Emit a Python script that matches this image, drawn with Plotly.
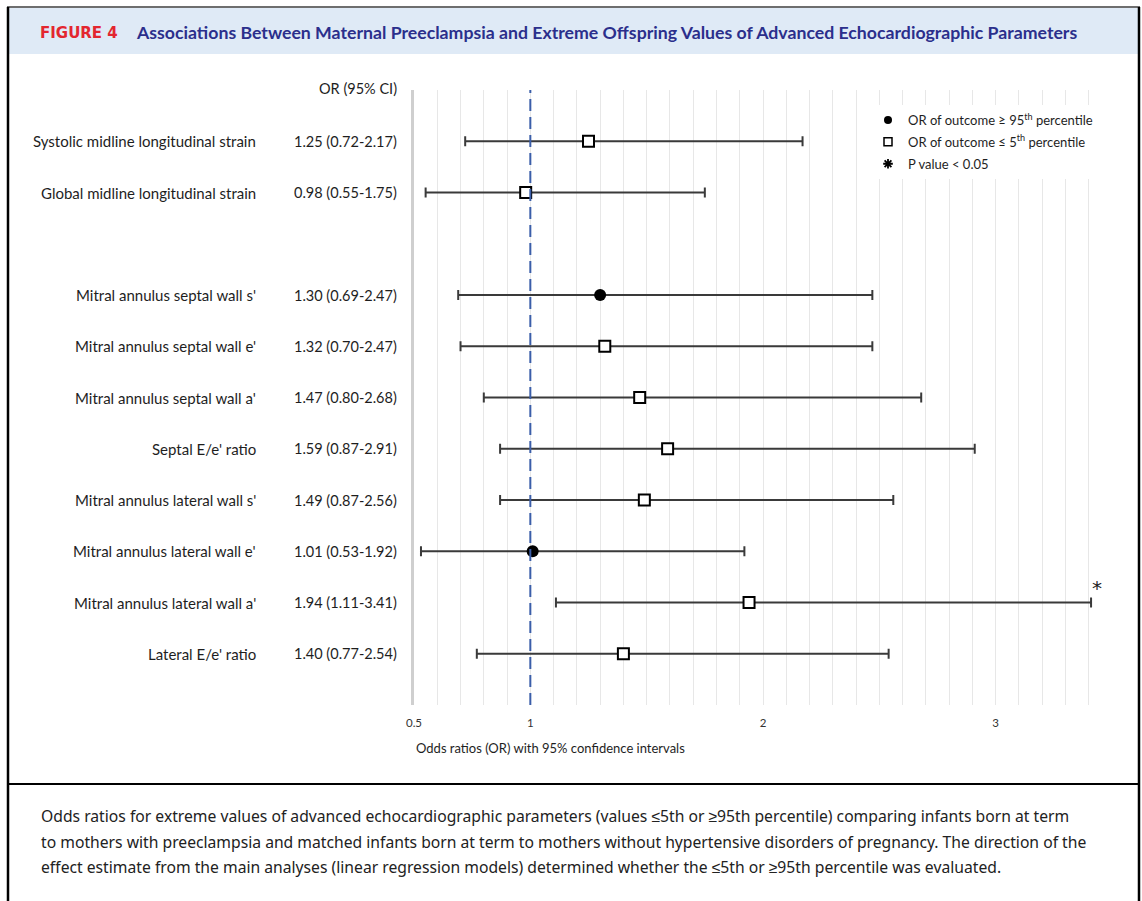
import plotly.graph_objects as go

# ---------------- data ----------------
labels = [
    "Systolic midline longitudinal strain",
    "Global midline longitudinal strain",
    "Mitral annulus septal wall s'",
    "Mitral annulus septal wall e'",
    "Mitral annulus septal wall a'",
    "Septal E/e' ratio",
    "Mitral annulus lateral wall s'",
    "Mitral annulus lateral wall e'",
    "Mitral annulus lateral wall a'",
    "Lateral E/e' ratio",
]
or_vals = [1.25, 0.98, 1.30, 1.32, 1.47, 1.59, 1.49, 1.01, 1.94, 1.40]
ci_low = [0.72, 0.55, 0.69, 0.70, 0.80, 0.87, 0.87, 0.53, 1.11, 0.77]
ci_high = [2.17, 1.75, 2.47, 2.47, 2.68, 2.91, 2.56, 1.92, 3.41, 2.54]
direction = ["low", "low", "high", "low", "low", "low", "low", "high", "low", "low"]  # high: >=95th, low: <=5th
significant = [False, False, False, False, False, False, False, False, True, False]
n_strain_rows = 2  # rows before the blank spacer row

x_ticks = [0.5, 1, 2, 3]
x_ticktext = ["0.5", "1", "2", "3"]

title_tag = "FIGURE 4"
title_text = "Associations Between Maternal Preeclampsia and Extreme Offspring Values of Advanced Echocardiographic Parameters"
caption_lines = [
    "Odds ratios for extreme values of advanced echocardiographic parameters (values \u22645th or \u226595th percentile) comparing infants born at term",
    "to mothers with preeclampsia and matched infants born at term to mothers without hypertensive disorders of pregnancy. The direction of the",
    "effect estimate from the main analyses (linear regression models) determined whether the \u22645th or \u226595th percentile was evaluated.",
]

# ---------------- layout helpers ----------------
W, H = 1142, 901
L, R, T, B = 414, 30, 90, 196
PW, PH = W - L - R, H - T - B


def px(x):
    return (x - L) / PW


def py(y):
    return 1 - (y - T) / PH


rows = [i + 1 if i < n_strain_rows else i + 2 for i in range(len(labels))]

FONT = "Lato, 'Open Sans', sans-serif"
TXT = "#1e1e1e"

fig = go.Figure()

for d, sym, fill in [("high", "circle", "black"), ("low", "square", "white")]:
    idx = [i for i in range(len(labels)) if direction[i] == d]
    xs = [or_vals[i] for i in idx]
    ys = [rows[i] for i in idx]
    plus = [ci_high[i] - or_vals[i] for i in idx]
    minus = [or_vals[i] - ci_low[i] for i in idx]
    fig.add_trace(go.Scatter(
        x=xs, y=ys, mode="markers", showlegend=False,
        marker=dict(symbol=sym, size=12 if d == "high" else 11, color=fill,
                    line=dict(color="black", width=2 if d == "low" else 0)),
        error_x=dict(type="data", symmetric=False, array=plus, arrayminus=minus,
                     color="#3a3a3a", thickness=2, width=5),
    ))

# legend-only traces
fig.add_trace(go.Scatter(x=[None], y=[None], mode="markers", legendgroup="a",
                         name="OR of outcome \u2265 95<sup>th</sup> percentile",
                         marker=dict(symbol="circle", size=8, color="black")))
fig.add_trace(go.Scatter(x=[None], y=[None], mode="markers", legendgroup="b",
                         name="OR of outcome \u2264 5<sup>th</sup> percentile",
                         marker=dict(symbol="square", size=8, color="white",
                                     line=dict(color="black", width=1.5))))
fig.add_trace(go.Scatter(x=[None], y=[None], mode="markers", legendgroup="c",
                         name="P value &lt; 0.05",
                         marker=dict(symbol="asterisk-open", size=8, color="black",
                                     line=dict(color="black", width=1.8))))

ann = []
# row labels and OR text
for i, lab in enumerate(labels):
    ann.append(dict(xref="paper", yref="y", x=px(258), y=rows[i], text=lab,
                    xanchor="right", yanchor="middle", showarrow=False,
                    font=dict(family=FONT, size=15, color=TXT)))
    ann.append(dict(xref="paper", yref="y", x=px(399), y=rows[i],
                    text=f"{or_vals[i]:.2f} ({ci_low[i]:.2f}-{ci_high[i]:.2f})",
                    xanchor="right", yanchor="middle", showarrow=False,
                    font=dict(family=FONT, size=14.5, color=TXT)))
    if significant[i]:
        ann.append(dict(xref="x", yref="y", x=ci_high[i], y=rows[i], text="*",
                        xanchor="center", yanchor="middle", showarrow=False,
                        xshift=6, yshift=15,
                        font=dict(family="DejaVu Sans, sans-serif", size=20, color=TXT)))

ann.append(dict(xref="paper", yref="paper", x=px(399), y=py(88), text="OR (95% CI)",
                xanchor="right", yanchor="middle", showarrow=False,
                font=dict(family=FONT, size=14.5, color=TXT)))
ann.append(dict(xref="paper", yref="paper", x=px(414), y=py(748),
                text="Odds ratios (OR) with 95% confidence intervals",
                xanchor="left", yanchor="middle", showarrow=False,
                font=dict(family=FONT, size=13, color=TXT)))
# header
ann.append(dict(xref="paper", yref="paper", x=px(38), y=py(33), text=f"<b>{title_tag}</b>",
                xanchor="left", yanchor="middle", showarrow=False,
                font=dict(family="DejaVu Sans, sans-serif", size=15, color="#e3262f")))
ann.append(dict(xref="paper", yref="paper", x=px(134), y=py(33), text=f"<b>{title_text}</b>",
                xanchor="left", yanchor="middle", showarrow=False,
                font=dict(family=FONT, size=17.7, color="#2b2f8c")))
# caption
for k, (line, yy) in enumerate(zip(caption_lines, [816, 842, 867])):
    ann.append(dict(xref="paper", yref="paper", x=px(39), y=py(yy), text=line,
                    xanchor="left", yanchor="middle", showarrow=False,
                    font=dict(family="'Noto Sans', sans-serif", size=15.7, color="#222")))

shapes = [
    # reference line at OR = 1
    dict(type="line", xref="x", yref="paper", x0=1, x1=1, y0=0, y1=1,
         line=dict(color="#3b5ea9", width=2, dash="12px,6px"), layer="above"),
    # banner
    dict(type="rect", xref="paper", yref="paper", x0=px(8), x1=px(1139), y0=py(8), y1=py(54),
         fillcolor="#dfeaf6", line=dict(width=0), layer="below"),
    dict(type="line", xref="paper", yref="paper", x0=px(7), x1=px(1140), y0=py(7), y1=py(7),
         line=dict(color="#6e6e6e", width=2)),
    dict(type="line", xref="paper", yref="paper", x0=px(8), x1=px(8), y0=py(7), y1=py(905),
         line=dict(color="black", width=2.5)),
    dict(type="line", xref="paper", yref="paper", x0=px(1139), x1=px(1139), y0=py(7), y1=py(905),
         line=dict(color="black", width=2.5)),
    dict(type="line", xref="paper", yref="paper", x0=px(8), x1=px(1139), y0=py(784), y1=py(784),
         line=dict(color="black", width=2)),
]

fig.update_layout(
    width=W, height=H,
    margin=dict(l=L, r=R, t=T, b=B),
    paper_bgcolor="white", plot_bgcolor="white",
    annotations=ann, shapes=shapes,
    showlegend=True,
    legend=dict(x=px(868), y=py(105), xanchor="left", yanchor="top",
                bgcolor="white", borderwidth=0, traceorder="grouped", tracegroupgap=2,
                font=dict(family=FONT, size=13, color=TXT)),
    xaxis=dict(range=[0.5, 3.5], tickvals=x_ticks, ticktext=x_ticktext,
               showgrid=True, gridcolor="#e7e7e7", gridwidth=1.3, zeroline=False,
               showline=False, ticks="", ticklabelstandoff=9,
               tickfont=dict(family=FONT, size=11.5, color="#333"),
               minor=dict(tick0=0.5, dtick=0.1, showgrid=True, gridcolor="#e7e7e7", gridwidth=1.3),
               fixedrange=True),
    yaxis=dict(range=[12, 0], showticklabels=False, showgrid=False, zeroline=False,
               showline=True, linecolor="#cfcfcf", linewidth=3, fixedrange=True),
)

fig.write_html("out.html", config={"displayModeBar": False},
               post_script="document.body.style.margin='0px';document.body.style.overflow='hidden';")
